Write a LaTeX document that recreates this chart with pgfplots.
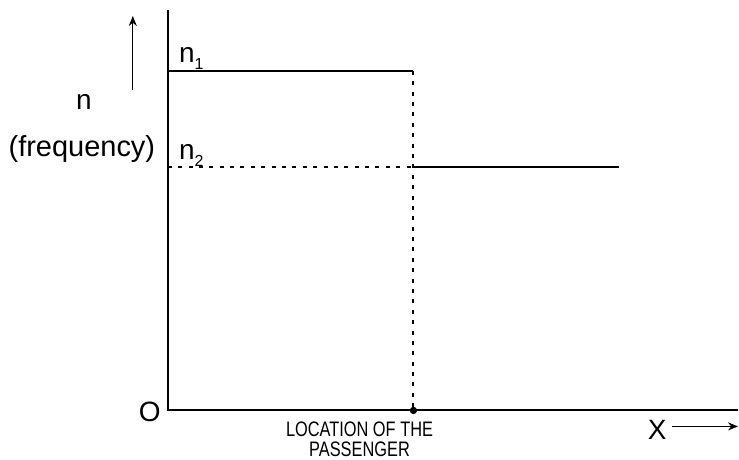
\documentclass[border=0pt]{standalone}
\usepackage{pgfplots}
\pgfplotsset{compat=1.18}
\usepackage{fontspec}
\setmainfont{Liberation Sans}
\usetikzlibrary{arrows.meta}
\newcommand{\sub}[1]{\raisebox{-0.45ex}{\fontsize{8}{8}\selectfont #1}}
\begin{document}
\begin{tikzpicture}
\begin{axis}[
  width=369.5pt, height=230pt, scale only axis,
  xmin=0, xmax=739, ymin=0, ymax=460,
  axis lines=none, clip=false,
]
% frame: pixel units, y measured from bottom
\path (axis cs:0,0) rectangle (axis cs:739,460);
% axes
\addplot[black, line width=1pt] coordinates {(168,450) (168,49) (739,49)};
% n1 level
\addplot[black, line width=1pt] coordinates {(168,389) (414,389)};
\addplot[black, line width=1pt, dash pattern=on 2pt off 3.2pt] coordinates {(414,389) (414,49)};
% n2 level
\addplot[black, line width=1pt, dash pattern=on 2pt off 3.2pt] coordinates {(168,293) (414,293)};
\addplot[black, line width=1pt] coordinates {(414,293) (620,293)};
\addplot[only marks, mark=*, mark size=1.6pt, black] coordinates {(414,49)};
% arrows
\addplot[black, line width=0.6pt, -{Stealth[length=5pt,width=4pt]}] coordinates {(133,370) (133,444)};
\addplot[black, line width=0.6pt, -{Stealth[length=5pt,width=4pt]}] coordinates {(673,33) (739,33)};
% labels
\node[font=\fontsize{14}{14}\selectfont] at (axis cs:150,48) {O};
\node[anchor=base west, inner sep=0pt, font=\fontsize{14}{14}\selectfont] at (axis cs:179,397) {n\sub{1}};
\node[anchor=base west, inner sep=0pt, font=\fontsize{14}{14}\selectfont] at (axis cs:179,300) {n\sub{2}};
\node[anchor=base, inner sep=0pt, font=\fontsize{14}{14}\selectfont] at (axis cs:84,350) {n};
\node[anchor=base, inner sep=0pt, font=\fontsize{14.5}{14.5}\selectfont] at (axis cs:82,303) {(frequency)};
\node[anchor=base, inner sep=0pt, font=\fontsize{14}{14}\selectfont] at (axis cs:658,20) {X};
\node[anchor=base, inner sep=0pt, font=\fontsize{10.5}{10.5}\selectfont] at (axis cs:360,23) {\scalebox{0.78}[1]{LOCATION OF THE}};
\node[anchor=base, inner sep=0pt, font=\fontsize{10.5}{10.5}\selectfont] at (axis cs:360,3) {\scalebox{0.78}[1]{PASSENGER}};
\end{axis}
\end{tikzpicture}
\end{document}
